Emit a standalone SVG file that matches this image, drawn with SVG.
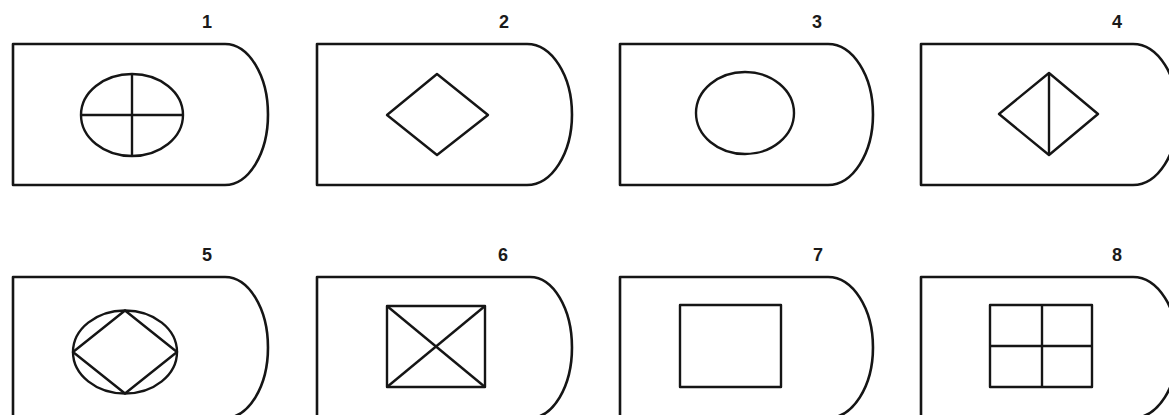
<svg xmlns="http://www.w3.org/2000/svg" width="1169" height="415" viewBox="0 0 1169 415">
<style>
.o{fill:none;stroke:#151515;stroke-width:2.6;stroke-linejoin:round}
.i{fill:none;stroke:#151515;stroke-width:2.4;stroke-linejoin:round}
.t{font-family:"Liberation Sans",Arial,sans-serif;font-size:18px;font-weight:bold;fill:#1a1a1a;text-anchor:middle}
</style>
<rect width="1169" height="415" fill="#fff"/>
<g id="node1">
<path class="o" d="M13 44 H225 A43 70.5 0 0 1 225 185 H13 Z"/>
<ellipse class="i" cx="132" cy="115" rx="51" ry="41"/>
<line class="i" x1="81" y1="115" x2="183" y2="115"/>
<line class="i" x1="132" y1="74" x2="132" y2="156"/>
<text class="t" x="207" y="28">1</text>
</g>
<g id="node2">
<path class="o" d="M317 44 H527 A45 70.5 0 0 1 527 185 H317 Z"/>
<polygon class="i" points="387,115 437,74 488,115 437,155"/>
<text class="t" x="504" y="28">2</text>
</g>
<g id="node3">
<path class="o" d="M620 44 H828 A45 70.5 0 0 1 828 185 H620 Z"/>
<ellipse class="i" cx="745" cy="113" rx="49" ry="41"/>
<text class="t" x="817" y="28">3</text>
</g>
<g id="node4">
<path class="o" d="M921 44 H1133 A45 70.5 0 0 1 1133 185 H921 Z"/>
<polygon class="i" points="999,114 1049,73 1098,114 1049,155"/>
<line class="i" x1="1049" y1="73" x2="1049" y2="155"/>
<text class="t" x="1117" y="28">4</text>
</g>
<g id="node5">
<path class="o" d="M13 277 H225 A43 70.5 0 0 1 225 418 H13 Z"/>
<ellipse class="i" cx="125" cy="352" rx="52" ry="41.5"/>
<polygon class="i" points="73,352 125,310.5 177,352 125,393.5"/>
<text class="t" x="207" y="261">5</text>
</g>
<g id="node6">
<path class="o" d="M317 277 H530 A42 70.5 0 0 1 530 418 H317 Z"/>
<rect class="i" x="387" y="306" width="98" height="81"/>
<line class="i" x1="387" y1="306" x2="485" y2="387"/>
<line class="i" x1="485" y1="306" x2="387" y2="387"/>
<text class="t" x="503" y="261">6</text>
</g>
<g id="node7">
<path class="o" d="M620 277 H828 A45 70.5 0 0 1 828 418 H620 Z"/>
<rect class="i" x="680" y="305" width="101" height="82"/>
<text class="t" x="818" y="261">7</text>
</g>
<g id="node8">
<path class="o" d="M921 277 H1133 A45 70.5 0 0 1 1133 418 H921 Z"/>
<rect class="i" x="990" y="305" width="102" height="82"/>
<line class="i" x1="990" y1="346" x2="1092" y2="346"/>
<line class="i" x1="1042" y1="305" x2="1042" y2="387"/>
<text class="t" x="1117" y="261">8</text>
</g>
<g id="connectors"></g>
</svg>
